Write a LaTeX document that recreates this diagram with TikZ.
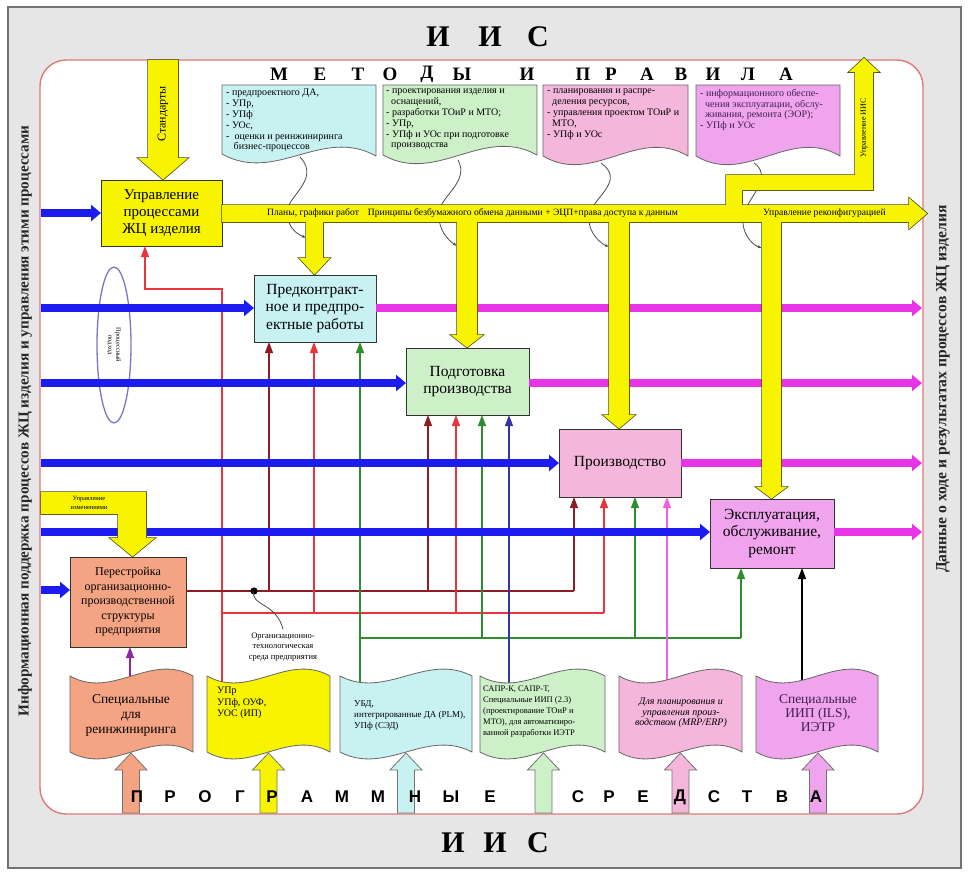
\documentclass[tikz,border=0pt]{standalone}
\usepackage{fontspec}
\setmainfont{Liberation Serif}
\newfontfamily\arialf{Liberation Sans}
\usetikzlibrary{arrows.meta,shapes.geometric}
\definecolor{framegray}{HTML}{E6E6E6}
\definecolor{framered}{HTML}{E07878}
\definecolor{yel}{HTML}{F8F400}
\definecolor{ydark}{HTML}{4A4A10}
\definecolor{bluea}{HTML}{1C1CF0}
\definecolor{maga}{HTML}{E634E6}
\definecolor{cyanf}{HTML}{C8F2F2}
\definecolor{greenf}{HTML}{CDF0C8}
\definecolor{pinkf}{HTML}{F4B6DA}
\definecolor{magf}{HTML}{F0A4EE}
\definecolor{salmf}{HTML}{F4A482}
\definecolor{dredc}{HTML}{8E1C24}
\definecolor{redc}{HTML}{E8343C}
\definecolor{greenc}{HTML}{2E8E2E}
\definecolor{bluec}{HTML}{3434A8}
\definecolor{pinkc}{HTML}{F060E0}
\definecolor{purpc}{HTML}{8A2A9E}
\definecolor{ellc}{HTML}{7878C8}
\definecolor{doctext}{HTML}{402050}
\newcommand\YShapes[1]{%
 \path[#1] (148,60) -- (178,60) -- (178,158) -- (188,158) -- (163,179.5) -- (138,158) -- (148,158) -- cycle;
 \path[#1] (222,205) -- (909,205) -- (909,198) -- (927,213.5) -- (909,229) -- (909,222) -- (222,222) -- cycle;
 \path[#1] (306,221) -- (323,221) -- (323,258) -- (330,258) -- (314.5,274.5) -- (299,258) -- (306,258) -- cycle;
 \path[#1] (457,221) -- (477,221) -- (477,335) -- (483,335) -- (467,347.5) -- (451,335) -- (457,335) -- cycle;
 \path[#1] (609,221) -- (629,221) -- (629,415) -- (635,415) -- (619,428.5) -- (603,415) -- (609,415) -- cycle;
 \path[#1] (762,221) -- (781,221) -- (781,487) -- (787,487) -- (771.5,498.5) -- (756,487) -- (762,487) -- cycle;
 \path[#1] (726,206) -- (726,175) -- (855,175) -- (855,72) -- (849,72) -- (864,58) -- (879,72) -- (873,72) -- (873,190) -- (742,190) -- (742,206) -- cycle;
 \path[#1] (41,492) -- (146,492) -- (146,538) -- (155,538) -- (132.5,556.5) -- (110,538) -- (118,538) -- (118,514) -- (41,514) -- cycle;
}
\newcommand\UpArr[2]{%
 \path[uparr, fill=#2] (#1-8.5,813) -- (#1-8.5,770) -- (#1-16,770) -- (#1,753) -- (#1+16,770) -- (#1+8.5,770) -- (#1+8.5,813) -- cycle;}
\tikzset{
 box/.style={draw=black!80, line width=0.9pt, inner sep=0pt, outer sep=0pt, align=center, text=black, font=\fontsize{15.5}{17.5}\selectfont},
 bluearr/.style={bluea, line width=8.5pt, -{Triangle[width=16pt,length=10pt]}},
 magarr/.style={maga, line width=8.5pt, -{Triangle[width=16pt,length=10pt]}},
 conn/.style={line width=1.1pt, -{Triangle[width=8pt,length=11pt]}},
 plain/.style={line width=1.1pt},
 docshape/.style={draw=black!60, line width=0.8pt},
 uparr/.style={draw=black!55, line width=0.8pt},
 doctxt/.style={font=\fontsize{10}{10.8}\selectfont, align=left, inner sep=0pt, anchor=north west},
 curvel/.style={black!70, line width=0.8pt, -{Latex[length=4pt,width=3pt]}},
}
\begin{document}
\begin{tikzpicture}[x=1pt,y=-1pt]
\useasboundingbox (0,0) rectangle (972,876);
% frames
\path[fill=framegray, draw=black!55, line width=1.4pt] (8,7) rectangle (961,868);
\path[fill=white, draw=framered, line width=1.4pt, rounded corners=26pt] (40,60) rectangle (923,814);
% side texts
\node[rotate=90, font=\fontsize{15.2}{16}\bfseries\selectfont, text=black!85] (lefttxt) at (25,421) {Информационная поддержка процессов ЖЦ изделия и управления этими процессами};
\node[rotate=90, font=\fontsize{15.6}{16}\bfseries\selectfont, text=black!85] (righttxt) at (943,389) {Данные о ходе и результатах процессов ЖЦ изделия};
% titles
\foreach \x/\l [count=\i] in {438/И,490/И,538/С}
  \node[font=\fontsize{30}{30}\bfseries\selectfont] (tt\i) at (\x,37) {\l};
\foreach \x/\l [count=\i] in {453/И,495/И,538/С}
  \node[font=\fontsize{30}{30}\bfseries\selectfont] (tb\i) at (\x,843) {\l};
\foreach \x/\l [count=\i] in {279/М,320/Е,358/Т,390/О,427/Д,462/Ы,527/И,583/П,611/Р,647/А,681/В,713/И,748/Л,786/А}
  \node[font=\fontsize{19}{19}\bfseries\selectfont] (tm\i) at (\x,74) {\l};
% process boxes
\node[box, fill=yel, minimum width=121pt, minimum height=66pt, font=\fontsize{15}{17}\selectfont] (upr) at (161.5,213) {Управление\\процессами\\ЖЦ изделия};
\node[box, fill=cyanf, minimum width=122pt, minimum height=67pt] (predk) at (315,308.5) {Предконтракт-\\ное и предпро-\\ектные работы};
\node[box, fill=greenf, minimum width=123pt, minimum height=67pt] (podg) at (467.5,381.5) {Подготовка\\производства};
\node[box, fill=pinkf, minimum width=122pt, minimum height=68pt] (proizv) at (620,463) {Производство};
\node[box, fill=magf, minimum width=124pt, minimum height=69pt] (expl) at (772,533.5) {Эксплуатация,\\обслуживание,\\ремонт};
\node[box, fill=salmf, minimum width=116pt, minimum height=90pt, font=\fontsize{12}{14.5}\selectfont] (perest) at (128,602) {Перестройка\\организационно-\\производственной\\структуры\\предприятия};
% ellipse
\node[draw=ellc, ellipse, line width=1.3pt, minimum width=34pt, minimum height=156pt, inner sep=0pt] (ell) at (114,345) {};
\node[rotate=-90, font=\fontsize{6.5}{8}\selectfont, align=center] (elltxt) at (ell.center) {Процессный\\подход};
% coordinates at tops of the lower documents
\coordinate (ydtop) at (222,695);
\coordinate (cdtop) at (360,695);
\coordinate (gdtop) at (509,695);
\coordinate (pdtop) at (667,695);
\coordinate (mdtop) at (802,695);
\coordinate (sdtop) at (130,695);
\coordinate (k1) at (145,289);
% thin connectors
\draw[conn, redc] (ydtop) |- (k1) -- (k1 |- upr.south);
\coordinate (r0) at (222,613);
\coordinate (dr0) at (perest.east |- 0,591);
\coordinate (g0) at (360,638);
\draw[plain, dredc] (dr0) -- (574,591);
\draw[plain, redc] (r0) -- (604,613);
\draw[plain, greenc] (g0) -- (741,638);
\foreach \x/\n [count=\i] in {269/predk,428/podg,574/proizv}{
  \coordinate (jd\i) at (\x,591);
  \draw[conn, dredc] (jd\i) -- (jd\i |- \n.south);}
\foreach \x/\n [count=\i] in {314/predk,456/podg,604/proizv}{
  \coordinate (jr\i) at (\x,613);
  \draw[conn, redc] (jr\i) -- (jr\i |- \n.south);}
\foreach \x/\n [count=\i] in {482/podg,635/proizv,741/expl}{
  \coordinate (jg\i) at (\x,638);
  \draw[conn, greenc] (jg\i) -- (jg\i |- \n.south);}
\draw[conn, greenc] (cdtop) -- (cdtop |- predk.south);
\draw[conn, bluec] (gdtop) -- (gdtop |- podg.south);
\draw[conn, pinkc] (pdtop) -- (pdtop |- proizv.south);
\draw[conn, black] (mdtop) -- (mdtop |- expl.south);
\draw[conn, purpc] (sdtop) -- (sdtop |- perest.south);
% junction dot and label
\coordinate (dot) at (254,591);
\fill[black] (dot) circle[radius=3.6pt];
\node[font=\fontsize{8.5}{10.5}\selectfont, align=center] (envlbl) at (283,647) {Организационно-\\технологическая\\среда предприятия};
\draw[black!70, line width=0.8pt] (dot) .. controls (250,606) and (276,602) .. (envlbl.north);
% thick arrows
\foreach \y/\n [count=\i] in {213/upr,308/predk,383/podg,463/proizv,532/expl,590/perest}{
  \coordinate (bin\i) at (41,\y);
  \draw[bluearr] (bin\i) -- (bin\i -| \n.west);}
\coordinate (rout) at (922,0);
\foreach \n/\y in {predk/308,podg/383,proizv/463,expl/532}
  \draw[magarr] (\n.east |- 0,\y) -- (rout |- 0,\y);
% upper documents
\path[docshape, fill=cyanf] (222,85) -- (376,85) -- (376,156) .. controls (322,126) and (276,184) .. (222,154) -- cycle;
\path[docshape, fill=greenf] (383,85) -- (537,85) -- (537,155) .. controls (483,125) and (437,185) .. (383,155) -- cycle;
\path[docshape, fill=pinkf] (543,85) -- (688,85) -- (688,156) .. controls (637,126) and (594,186) .. (543,156) -- cycle;
\path[docshape, fill=magf] (696,85) -- (840,85) -- (840,156) .. controls (790,126) and (746,186) .. (696,156) -- cycle;
\node[doctxt] (td1) at (226,89) {- предпроектного ДА,\\- УПр,\\- УПф\\- УОс,\\-\ \ оценки и реинжиниринга\\\ \ \ бизнес-процессов};
\node[doctxt] (td2) at (386,89) {- проектирования изделия и\\\ \ оснащений,\\- разработки ТОиР и МТО;\\- УПр,\\- УПф и УОс при подготовке\\\ \ производства};
\node[doctxt] (td3) at (547,89) {- планирования и распре-\\\ \ деления ресурсов,\\- управления проектом ТОиР и\\\ \ МТО,\\- УПф и УОс};
\node[doctxt, text=doctext] (td4) at (700,89) {- информационного обеспе-\\\ \ чения эксплуатации, обслу-\\\ \ живания, ремонта (ЭОР);\\- УПф и УОс};
% curved links from documents to the yellow flows
\draw[curvel] (300,157) .. controls (322,180) and (284,198) .. (287,214) .. controls (289,230) and (298,234) .. (306,238);
\draw[curvel] (458,160) .. controls (470,182) and (440,196) .. (439,213) .. controls (438,230) and (448,240) .. (457,246);
\draw[curvel] (601,163) .. controls (625,180) and (596,196) .. (590,212) .. controls (585,228) and (598,242) .. (609,247);
\draw[curvel] (754,163) .. controls (772,175) and (752,195) .. (745,210) .. controls (738,228) and (750,244) .. (762,248);
% yellow flows: outline pass then fill pass
\YShapes{draw=ydark, line width=1.5pt}
\YShapes{fill=yel}
\node[rotate=90, font=\fontsize{12}{12}\selectfont] (stdtxt) at (163,114) {Стандарты};
\node[rotate=90, font=\fontsize{8}{8}\selectfont] (iistxt) at (864,128) {Управление ИИС};
\node[anchor=west, font=\fontsize{9.6}{10}\selectfont, inner sep=0pt] (bandtxt) at (267,213.5) {Планы, графики работ\hspace{9pt}Принципы безбумажного обмена данными + ЭЦП+права доступа к данным};
\node[anchor=west, font=\fontsize{9.6}{10}\selectfont, inner sep=0pt] (bandtxt2) at (763,213.5) {Управление реконфигурацией};
\node[font=\fontsize{6.5}{8.5}\selectfont, align=center] (izmtxt) at (89,503) {Управление\\изменениями};
% lower documents
\path[docshape, fill=salmf] (70,676) .. controls (113,700) and (150,652) .. (193,676) -- (193,752) .. controls (150,728) and (113,776) .. (70,752) -- cycle;
\path[docshape, fill=yel] (207,676) .. controls (250,700) and (287,652) .. (330,676) -- (330,752) .. controls (287,728) and (250,776) .. (207,752) -- cycle;
\path[docshape, fill=cyanf] (340,676) .. controls (386,700) and (426,652) .. (472,676) -- (472,752) .. controls (426,728) and (386,776) .. (340,752) -- cycle;
\path[docshape, fill=greenf] (480,676) .. controls (524,700) and (561,652) .. (605,676) -- (605,752) .. controls (561,728) and (524,776) .. (480,752) -- cycle;
\path[docshape, fill=pinkf] (619,676) .. controls (662,700) and (699,652) .. (742,676) -- (742,752) .. controls (699,728) and (662,776) .. (619,752) -- cycle;
\path[docshape, fill=magf] (756,676) .. controls (799,700) and (835,652) .. (878,676) -- (878,752) .. controls (835,728) and (799,776) .. (756,752) -- cycle;
\node[font=\fontsize{13.5}{15}\selectfont, align=center] (bd1) at (131,715) {Специальные\\для\\реинжиниринга};
\node[doctxt, font=\fontsize{10}{11.5}\selectfont] (bd2) at (217,687) {УПр\\УПф, ОУФ,\\УОС (ИП)};
\node[doctxt, font=\fontsize{9}{11}\selectfont] (bd3) at (354,700) {УБД,\\интегрированные ДА (PLM),\\УПф (СЭД)};
\node[doctxt, font=\fontsize{8.5}{11}\selectfont] (bd4) at (483,686) {САПР-К, САПР-Т,\\Специальные ИИП (2.3)\\(проектирование ТОиР и\\МТО), для автоматизиро-\\ванной разработки ИЭТР};
\node[font=\fontsize{10}{10.5}\itshape\selectfont, align=center] (bd5) at (681,713) {Для планирования и\\управления произ-\\водством (MRP/ERP)};
\node[font=\fontsize{13.5}{14}\selectfont, align=center, text=doctext] (bd6) at (818,713) {Специальные\\ИИП (ILS),\\ИЭТР};
% upward arrows from the bottom
\UpArr{131}{salmf}
\UpArr{268.5}{yel}
\UpArr{406}{cyanf}
\UpArr{543.5}{greenf}
\UpArr{680.5}{pinkf}
\UpArr{818}{magf}
\foreach \x/\l [count=\i] in {137/П,170/Р,205/О,240/Г,272/Р,307/А,342/М,378/М,415/Н,451/Ы,490/Е,578/С,609/Р,643/Е,680/Д,714/С,747/Т,782/В,816/А}
  \node[font=\arialf\fontsize{17}{17}\bfseries\selectfont] (ps\i) at (\x,797) {\l};
\end{tikzpicture}
\end{document}
